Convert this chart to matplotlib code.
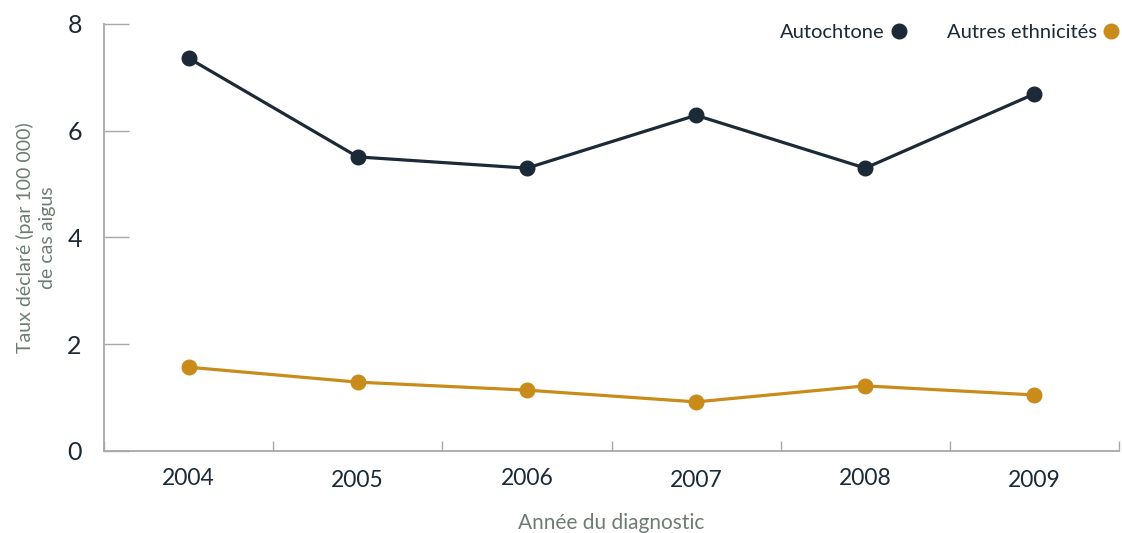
import matplotlib
matplotlib.use("Agg")
import matplotlib.pyplot as plt
from matplotlib.lines import Line2D
import numpy as np

years = ["2004", "2005", "2006", "2007", "2008", "2009"]
autochtone = [7.36, 5.51, 5.30, 6.29, 5.30, 6.69]
autres = [1.57, 1.29, 1.14, 0.92, 1.22, 1.05]
yticks = [0, 2, 4, 6, 8]

dark = "#1b2a36"
gold = "#c98b1a"
axis_gray = "#a8a8a8"
label_gray = "#6e7d72"

plt.rcParams['font.family'] = ['Lato', 'DejaVu Sans']

fig = plt.figure(figsize=(11.22, 5.33), dpi=100)
ax = fig.add_axes([104/1122, 1-451/533, (1119-104)/1122, (451-24)/533])

x = np.arange(len(years))
ax.plot(x, autochtone, color=dark, lw=2.3, marker='o', ms=10.5, zorder=3)
ax.plot(x, autres, color=gold, lw=2.3, marker='o', ms=10.5, zorder=3)

ax.set_xlim(-0.5, len(years) - 0.5)
ax.set_ylim(0, 8)

for s in ['top', 'right']:
    ax.spines[s].set_visible(False)
for s in ['left', 'bottom']:
    ax.spines[s].set_color(axis_gray)
    ax.spines[s].set_linewidth(1.3)

ax.set_yticks(yticks)
ax.set_yticklabels([str(v) for v in yticks])
ax.tick_params(axis='y', direction='in', length=18, width=1.0, color=axis_gray,
               labelsize=18, labelcolor=dark, pad=16)

ax.set_xticks(x)
ax.set_xticklabels(years)
ax.set_xticks(np.arange(len(years) + 1) - 0.5, minor=True)
ax.tick_params(axis='x', which='major', length=0, labelsize=16.5, labelcolor=dark, pad=12)
ax.tick_params(axis='x', which='minor', direction='in', length=7, width=1.0, color=axis_gray)
for i, lab in enumerate(ax.get_xticklabels()):
    if i % 2 == 1:
        lab.set_y(-0.006)

ax.set_xlabel("Année du diagnostic", fontsize=15, color=label_gray, labelpad=16)
ax.set_ylabel("Taux déclaré (par 100 000)\nde cas aigus", fontsize=14, color=label_gray,
              linespacing=1.35)
ax.yaxis.set_label_coords(-0.047, 0.5)

handles = [Line2D([], [], color=dark, marker='o', ls='none', ms=10.5),
           Line2D([], [], color=gold, marker='o', ls='none', ms=10.5)]
leg = ax.legend(handles, ["Autochtone", "Autres ethnicités"], loc='upper right',
                bbox_to_anchor=(1.0, 1.0), ncol=2, frameon=False, markerfirst=False,
                fontsize=14.5, handlelength=0.8, handletextpad=0.3, columnspacing=2.0,
                borderaxespad=0, borderpad=0)
for t in leg.get_texts():
    t.set_color(dark)

fig.savefig("out.png", dpi=100)
